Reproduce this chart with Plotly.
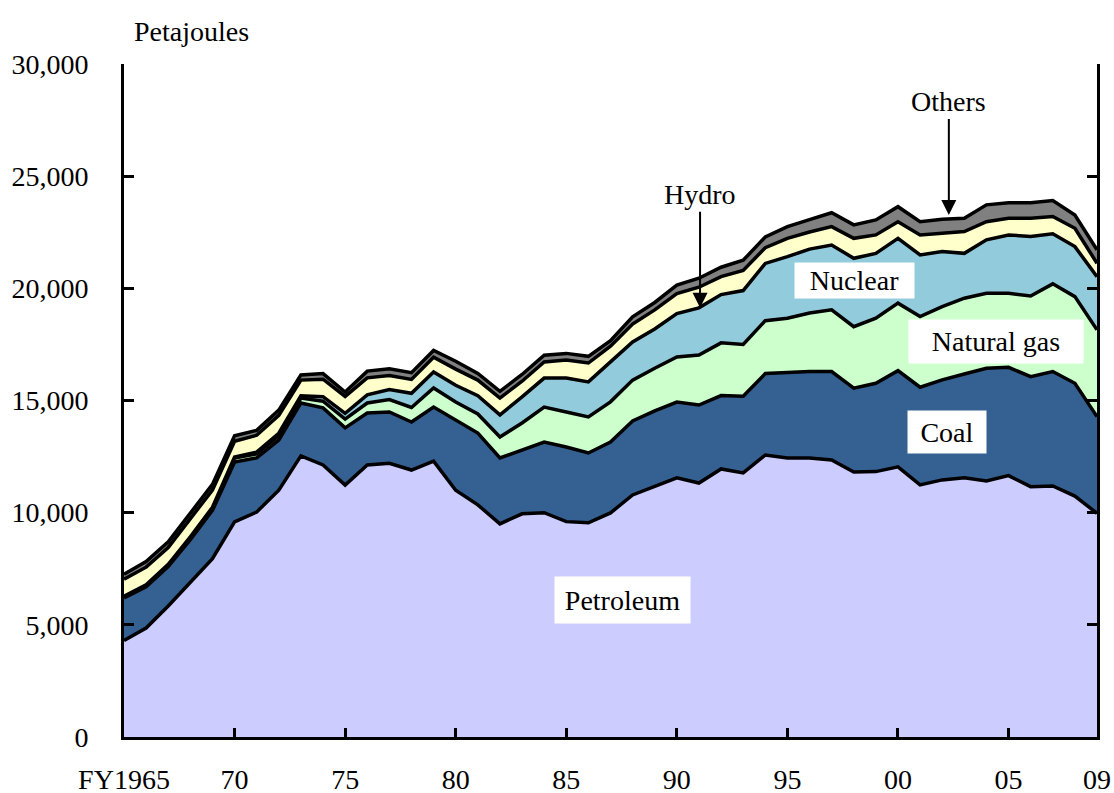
import plotly.graph_objects as go

years = list(range(1965, 2010))

# Primary energy supply, petajoules
petroleum = [4300, 4860, 5840, 6870, 7950, 9590, 10030, 11000, 12530, 12130,
             11230, 12130, 12200, 11900, 12300, 11000, 10350, 9500, 9950, 10000,
             9600, 9550, 9990, 10790, 11190, 11550, 11320, 11950, 11770, 12570,
             12440, 12440, 12350, 11810, 11830, 12040, 11240, 11460, 11560, 11410,
             11650, 11160, 11190, 10740, 9970]
coal = [1900, 1840, 1760, 1930, 2150, 2670, 2410, 2240, 2360, 2540,
        2550, 2310, 2290, 2140, 2410, 3130, 3200, 2940, 2850, 3150,
        3330, 3110, 3160, 3300, 3350, 3380, 3480, 3270, 3420, 3630,
        3810, 3850, 3940, 3740, 3940, 4290, 4350, 4460, 4620, 5030,
        4830, 4900, 5100, 5030, 4310]
natural_gas = [80, 80, 90, 110, 130, 170, 180, 200, 220, 300,
               390, 450, 550, 650, 850, 800, 850, 930, 1200, 1560,
               1560, 1610, 1790, 1820, 1900, 2010, 2230, 2350, 2310, 2360,
               2420, 2610, 2750, 2740, 2900, 3010, 3150, 3260, 3380, 3340,
               3300, 3600, 3910, 3860, 3870]
nuclear = [0, 10, 10, 10, 10, 50, 80, 100, 100, 200,
           260, 360, 450, 630, 710, 750, 810, 990, 1160, 1290,
           1510, 1560, 1780, 1700, 1750, 1930, 2100, 2150, 2400, 2550,
           2740, 2850, 2890, 3050, 2890, 2890, 2750, 2460, 2000, 2380,
           2600, 2650, 2230, 2230, 2370]
hydro = [750, 780, 750, 780, 770, 700, 750, 800, 700, 780,
         750, 760, 620, 620, 660, 720, 700, 750, 700, 720,
         800, 840, 700, 800, 850, 900, 920, 800, 900, 700,
         820, 760, 820, 890, 820, 740, 890, 820, 970, 810,
         740, 810, 770, 820, 600]
others = [220, 250, 250, 250, 250, 250, 220, 230, 230, 250,
          200, 300, 300, 300, 300, 350, 300, 300, 300, 300,
          300, 300, 250, 320, 330, 370, 400, 420, 450, 480,
          520, 550, 620, 600, 670, 670, 590, 620, 590, 750,
          700, 700, 710, 590, 600]

x_tickvals = [1965, 1970, 1975, 1980, 1985, 1990, 1995, 2000, 2005, 2009]
x_ticktext = ["FY1965", "70", "75", "80", "85", "90", "95", "00", "05", "09"]
y_tickvals = [0, 5000, 10000, 15000, 20000, 25000, 30000]

series = [
    ("Petroleum", petroleum, "#CCCCFF"),
    ("Coal", coal, "#356192"),
    ("Natural gas", natural_gas, "#CCFFCC"),
    ("Nuclear", nuclear, "#92CCDC"),
    ("Hydro", hydro, "#FFFFCC"),
    ("Others", others, "#808080"),
]

FONT = "Liberation Serif, Times New Roman, serif"

fig = go.Figure()
for name, vals, col in series:
    fig.add_trace(go.Scatter(
        x=years, y=vals, name=name, mode="lines", stackgroup="one",
        line=dict(color="black", width=3.5), fillcolor=col, showlegend=False,
    ))

ann_font = dict(family=FONT, size=28, color="black")
annotations = [
    dict(x=0.069, y=1.048, xref="paper", yref="paper", text="Petajoules",
         showarrow=False, font=ann_font, xanchor="center", yanchor="middle"),
    dict(x=1987.55, y=6100, text="Petroleum", showarrow=False, font=ann_font,
         bgcolor="white", width=135, height=46, borderpad=0),
    dict(x=2002.2, y=13600, text="Coal", showarrow=False, font=ann_font,
         bgcolor="white", width=78, height=42, borderpad=0),
    dict(x=2004.45, y=17630, text="Natural gas", showarrow=False, font=ann_font,
         bgcolor="white", width=174, height=43, borderpad=0),
    dict(x=1998.05, y=20350, text="Nuclear", showarrow=False, font=ann_font,
         bgcolor="white", width=119, height=35, borderpad=0),
    dict(x=1991.05, y=19130, text="Hydro", showarrow=True, ax=0, ay=-113,
         arrowhead=2, arrowsize=1.5, arrowwidth=2, arrowcolor="black",
         font=ann_font),
    dict(x=2002.3, y=23270, text="Others", showarrow=True, ax=0, ay=-113,
         arrowhead=2, arrowsize=1.5, arrowwidth=2, arrowcolor="black",
         font=ann_font),
]

fig.update_layout(
    width=1114, height=793,
    margin=dict(l=124, r=17, t=64, b=56, autoexpand=False),
    paper_bgcolor="white", plot_bgcolor="white",
    font=dict(family=FONT, size=28, color="black"),
    annotations=annotations,
    xaxis=dict(
        range=[1965, 2009], tickvals=x_tickvals, ticktext=x_ticktext,
        ticks="inside", ticklen=9, tickwidth=3, tickcolor="black",
        showline=True, linewidth=3, linecolor="black", mirror=False,
        showgrid=False, zeroline=False, ticklabelstandoff=15,
        automargin=False,
        tickfont=dict(family=FONT, size=28, color="black"),
    ),
    yaxis=dict(
        range=[0, 30000], tickvals=y_tickvals, tickformat=",",
        ticks="inside", ticklen=10, tickwidth=3, tickcolor="black",
        showline=True, linewidth=3, linecolor="black", mirror="ticks",
        showgrid=False, zeroline=False, ticklabelstandoff=27,
        automargin=False,
        tickfont=dict(family=FONT, size=28, color="black"),
    ),
)

fig.write_html(
    "out.html",
    config={"displayModeBar": False},
    post_script="document.body.style.margin='0';document.body.style.overflow='hidden';",
)
